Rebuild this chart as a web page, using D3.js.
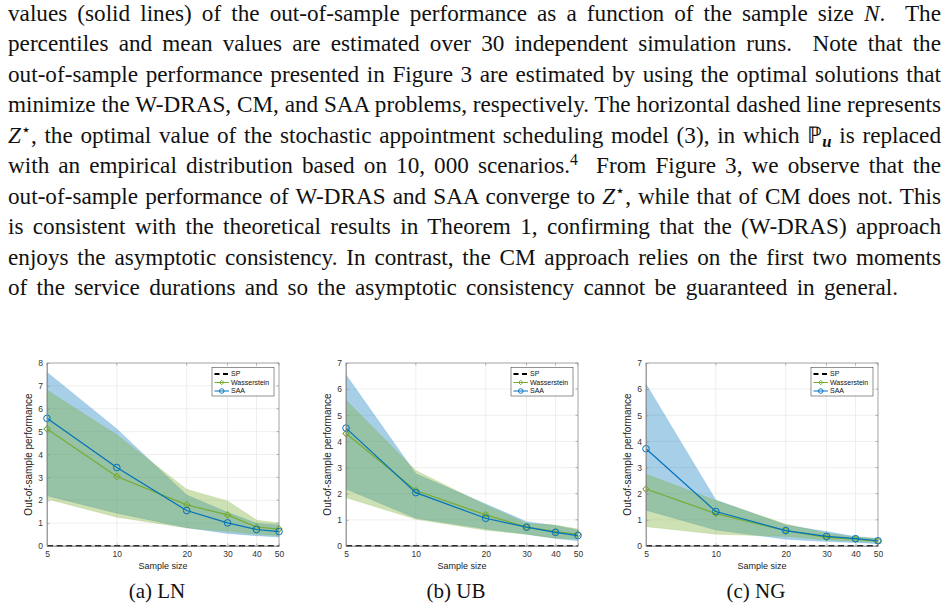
<!DOCTYPE html>
<html>
<head>
<meta charset="utf-8">
<script src="https://cdn.jsdelivr.net/npm/d3@7"></script>
<style>
  body { margin: 0; background: #fff; }
  svg { display: block; }
</style>
</head>
<body>
<script>
//sample sizes on the x axis (log scale)
var sampleSizes = [5, 10, 20, 30, 40, 50];

//(a) LN : mean and percentile band per method
var lnWassMean = [5.12, 3.04, 1.80, 1.36, 0.83, 0.74];
var lnWassHigh = [6.82, 4.86, 2.48, 1.97, 1.14, 0.99];
var lnWassLow  = [2.05, 1.26, 0.79, 0.63, 0.51, 0.45];
var lnSaaMean  = [5.58, 3.43, 1.55, 1.01, 0.72, 0.63];
var lnSaaHigh  = [7.60, 5.12, 2.23, 1.47, 1.00, 0.92];
var lnSaaLow   = [2.20, 1.43, 0.80, 0.55, 0.45, 0.39];

//(b) UB
var ubWassMean = [4.30, 2.12, 1.19, 0.72, 0.55, 0.45];
var ubWassHigh = [5.58, 2.89, 1.57, 0.87, 0.80, 0.65];
var ubWassLow  = [1.85, 1.02, 0.60, 0.45, 0.30, 0.27];
var ubSaaMean  = [4.51, 2.04, 1.06, 0.72, 0.52, 0.40];
var ubSaaHigh  = [6.55, 2.76, 1.61, 0.93, 0.78, 0.61];
var ubSaaLow   = [2.18, 1.06, 0.65, 0.45, 0.29, 0.20];

//(c) NG
var ngWassMean = [2.18, 1.24, 0.59, 0.33, 0.26, 0.19];
var ngWassHigh = [2.75, 1.74, 0.84, 0.49, 0.33, 0.29];
var ngWassLow  = [0.74, 0.45, 0.36, 0.23, 0.17, 0.14];
var ngSaaMean  = [3.72, 1.32, 0.59, 0.37, 0.28, 0.20];
var ngSaaHigh  = [6.20, 1.76, 0.80, 0.55, 0.36, 0.29];
var ngSaaLow   = [1.37, 0.61, 0.26, 0.17, 0.13, 0.09];

//SP optimal value (dashed line)
var spValue = [0, 0, 0];

//y axis tops and captions
var yMaxes = [8, 7, 7];
var captions = ["(a) LN", "(b) UB", "(c) NG"];
var legendLabels = ["SP", "Wasserstein", "SAA"];

//paragraph lines, segments: [text, style]  (i = italic, sup = superscript, sub = bold subscript)
var paragraph = [
  [["values (solid lines) of the out-of-sample performance as a function of the sample size "], ["N", "i"], [".  The"]],
  [["percentiles and mean values are estimated over 30 independent simulation runs.  Note that the"]],
  [["out-of-sample performance presented in Figure 3 are estimated by using the optimal solutions that"]],
  [["minimize the W-DRAS, CM, and SAA problems, respectively. The horizontal dashed line represents"]],
  [["Z", "i"], ["\u22C6", "sup"], [", the optimal value of the stochastic appointment scheduling model (3), in which "], ["\u2119"], ["u", "sub"], [" is replaced"]],
  [["with an empirical distribution based on 10, 000 scenarios."], ["4", "sup"], ["  From Figure 3, we observe that the"]],
  [["out-of-sample performance of W-DRAS and SAA converge to "], ["Z", "i"], ["\u22C6", "sup"], [", while that of CM does not. This"]],
  [["is consistent with the theoretical results in Theorem 1, confirming that the (W-DRAS) approach"]],
  [["enjoys the asymptotic consistency. In contrast, the CM approach relies on the first two moments"]],
  [["of the service durations and so the asymptotic consistency cannot be guaranteed in general."]]
];

//layout
var width = 949, height = 610;
var textLeft = 8, textRight = 941, lastLineWidth = 890;
var firstBaseline = 21, lineStep = 30.45, fontSize = 23.2;
var plotLefts = [47, 346, 646], plotW = 232, plotTop = 363, plotBottom = 546;

var green = "#77AC30", blue = "#0072BD";
var sans = "'Liberation Sans', Arial, sans-serif";

var svg = d3.select("body").append("svg")
    .attr("width", width)
    .attr("height", height);

//draw paragraph text, justified by word spacing
paragraph.forEach(function(line, li) {
    var t = svg.append("text")
        .attr("x", textLeft)
        .attr("y", firstBaseline + li * lineStep)
        .attr("font-family", "'Liberation Serif', 'Times New Roman', serif")
        .attr("font-size", fontSize)
        .attr("fill", "#111")
        .style("white-space", "pre");
    var shift = 0;
    line.forEach(function(seg) {
        var ts = t.append("tspan").text(seg[0]);
        var want = 0;
        if (seg[1] == "i") ts.attr("font-style", "italic");
        if (seg[1] == "sup") { want = -8; ts.attr("font-size", fontSize * 0.68); }
        if (seg[1] == "sub") { want = 4; ts.attr("font-size", fontSize * 0.72).attr("font-weight", "bold").attr("font-style", "italic"); }
        if (want != shift) { ts.attr("dy", want - shift); shift = want; }
    });
    //stretch spaces so line hits the margin
    var nat = t.node().getComputedTextLength();
    var spaces = t.text().split(" ").length - 1;
    var target = (li == paragraph.length - 1) ? lastLineWidth : (textRight - textLeft);
    t.attr("word-spacing", (target - nat) / spaces);
});

//one chart panel
function drawChart(k, wMean, wHigh, wLow, sMean, sHigh, sLow) {
    var left = plotLefts[k];
    var x = d3.scaleLog().domain([5, 50]).range([left, left + plotW]);
    var y = d3.scaleLinear().domain([0, yMaxes[k]]).range([plotBottom, plotTop]);
    var g = svg.append("g");
    var yTicks = d3.range(0, yMaxes[k] + 1);

    //grid lines
    g.selectAll(".vgrid").data(sampleSizes).enter().append("line")
        .attr("x1", d => x(d)).attr("x2", d => x(d))
        .attr("y1", plotTop).attr("y2", plotBottom)
        .attr("stroke", "#e4e4e4").attr("stroke-width", 0.6);
    g.selectAll(".hgrid").data(yTicks).enter().append("line")
        .attr("x1", left).attr("x2", left + plotW)
        .attr("y1", d => y(d)).attr("y2", d => y(d))
        .attr("stroke", "#e4e4e4").attr("stroke-width", 0.6);

    var rows = sampleSizes.map(function(n, i) {
        return {n: n, wm: wMean[i], wh: wHigh[i], wl: wLow[i], sm: sMean[i], sh: sHigh[i], sl: sLow[i]};
    });

    //percentile bands
    var saaArea = d3.area().x(d => x(d.n)).y0(d => y(d.sl)).y1(d => y(d.sh));
    var wassArea = d3.area().x(d => x(d.n)).y0(d => y(d.wl)).y1(d => y(d.wh));
    g.append("path").attr("d", saaArea(rows))
        .attr("fill", blue).attr("fill-opacity", 0.34)
        .attr("stroke", blue).attr("stroke-opacity", 0.3).attr("stroke-width", 0.5);
    g.append("path").attr("d", wassArea(rows))
        .attr("fill", green).attr("fill-opacity", 0.36)
        .attr("stroke", green).attr("stroke-opacity", 0.3).attr("stroke-width", 0.5);

    //SP dashed line
    g.append("line")
        .attr("x1", left).attr("x2", left + plotW)
        .attr("y1", y(spValue[k])).attr("y2", y(spValue[k]))
        .attr("stroke", "#000").attr("stroke-width", 2)
        .attr("stroke-dasharray", "6,3.6");

    //mean lines with markers
    var wLine = d3.line().x(d => x(d.n)).y(d => y(d.wm));
    var sLine = d3.line().x(d => x(d.n)).y(d => y(d.sm));
    g.append("path").attr("d", wLine(rows)).attr("fill", "none")
        .attr("stroke", green).attr("stroke-width", 1.2);
    g.selectAll(".wmark").data(rows).enter().append("path")
        .attr("d", d3.symbol().type(d3.symbolSquare).size(20))
        .attr("transform", d => "translate(" + x(d.n) + "," + y(d.wm) + ") rotate(45)")
        .attr("fill", "none").attr("stroke", green).attr("stroke-width", 1);
    g.append("path").attr("d", sLine(rows)).attr("fill", "none")
        .attr("stroke", blue).attr("stroke-width", 1.2);
    g.selectAll(".smark").data(rows).enter().append("circle")
        .attr("cx", d => x(d.n)).attr("cy", d => y(d.sm)).attr("r", 3.3)
        .attr("fill", "none").attr("stroke", blue).attr("stroke-width", 1);

    //box and axes
    g.append("rect")
        .attr("x", left).attr("y", plotTop)
        .attr("width", plotW).attr("height", plotBottom - plotTop)
        .attr("fill", "none").attr("stroke", "#8a8a8a").attr("stroke-width", 0.7);

    var xAxis = g.append("g")
        .attr("transform", "translate(0," + plotBottom + ")")
        .call(d3.axisBottom(x).tickValues(sampleSizes).tickFormat(d3.format("d"))
            .tickSizeInner(-2.5).tickSizeOuter(0).tickPadding(5));
    var yAxis = g.append("g")
        .attr("transform", "translate(" + left + ",0)")
        .call(d3.axisLeft(y).tickValues(yTicks).tickFormat(d3.format("d"))
            .tickSizeInner(-2.5).tickSizeOuter(0).tickPadding(4));
    [xAxis, yAxis].forEach(function(a) {
        a.select(".domain").attr("stroke", "#8a8a8a").attr("stroke-width", 0.7);
        a.selectAll(".tick line").attr("stroke", "#8a8a8a").attr("stroke-width", 0.6);
        a.selectAll(".tick text").attr("fill", "#333")
            .attr("font-family", sans).attr("font-size", 8.5);
    });
    //top and right ticks
    g.selectAll(".ttick").data(sampleSizes).enter().append("line")
        .attr("x1", d => x(d)).attr("x2", d => x(d))
        .attr("y1", plotTop).attr("y2", plotTop + 2.5)
        .attr("stroke", "#8a8a8a").attr("stroke-width", 0.6);
    g.selectAll(".rtick").data(yTicks).enter().append("line")
        .attr("x1", left + plotW).attr("x2", left + plotW - 2.5)
        .attr("y1", d => y(d)).attr("y2", d => y(d))
        .attr("stroke", "#8a8a8a").attr("stroke-width", 0.6);

    //axis labels
    g.append("text")
        .attr("x", left + plotW / 2).attr("y", 568.5)
        .attr("text-anchor", "middle")
        .attr("font-family", sans).attr("font-size", 9)
        .attr("fill", "#222").text("Sample size");
    g.append("text")
        .attr("transform", "translate(" + (left - 15.5) + "," + ((plotTop + plotBottom) / 2) + ") rotate(-90)")
        .attr("text-anchor", "middle")
        .attr("font-family", sans).attr("font-size", 10)
        .attr("fill", "#222").text("Out-of-sample performance");

    //legend
    var lx = left + plotW - 5 - 62, ly = plotTop + 4.5;
    var lg = g.append("g").attr("transform", "translate(" + lx + "," + ly + ")");
    lg.append("rect").attr("width", 62).attr("height", 28.5)
        .attr("fill", "#fff").attr("stroke", "#262626").attr("stroke-width", 0.5);
    var legendStyles = [
        {c: "#000", w: 2, dash: "5,3.5"},
        {c: green, w: 1, dash: null},
        {c: blue, w: 1, dash: null}
    ];
    legendLabels.forEach(function(lab, i) {
        var yy = 6.5 + i * 8.5;
        var st = legendStyles[i];
        lg.append("line").attr("x1", 2.5).attr("x2", 17).attr("y1", yy).attr("y2", yy)
            .attr("stroke", st.c).attr("stroke-width", st.w)
            .attr("stroke-dasharray", st.dash);
        if (i == 1) {
            lg.append("path").attr("d", d3.symbol().type(d3.symbolSquare).size(10))
                .attr("transform", "translate(9.75," + yy + ") rotate(45)")
                .attr("fill", "none").attr("stroke", green).attr("stroke-width", 0.9);
        }
        if (i == 2) {
            lg.append("circle").attr("cx", 9.75).attr("cy", yy).attr("r", 2.3)
                .attr("fill", "none").attr("stroke", blue).attr("stroke-width", 0.9);
        }
        lg.append("text").attr("x", 19).attr("y", yy + 2.4)
            .attr("font-family", sans).attr("font-size", 7)
            .attr("fill", "#111").text(lab);
    });

    //caption
    svg.append("text")
        .attr("x", left + plotW / 2 - 6).attr("y", 598)
        .attr("text-anchor", "middle")
        .attr("font-family", "'Liberation Serif', 'Times New Roman', serif")
        .attr("font-size", 21).attr("fill", "#111")
        .text(captions[k]);
}

drawChart(0, lnWassMean, lnWassHigh, lnWassLow, lnSaaMean, lnSaaHigh, lnSaaLow);
drawChart(1, ubWassMean, ubWassHigh, ubWassLow, ubSaaMean, ubSaaHigh, ubSaaLow);
drawChart(2, ngWassMean, ngWassHigh, ngWassLow, ngSaaMean, ngSaaHigh, ngSaaLow);
</script>
</body>
</html>
